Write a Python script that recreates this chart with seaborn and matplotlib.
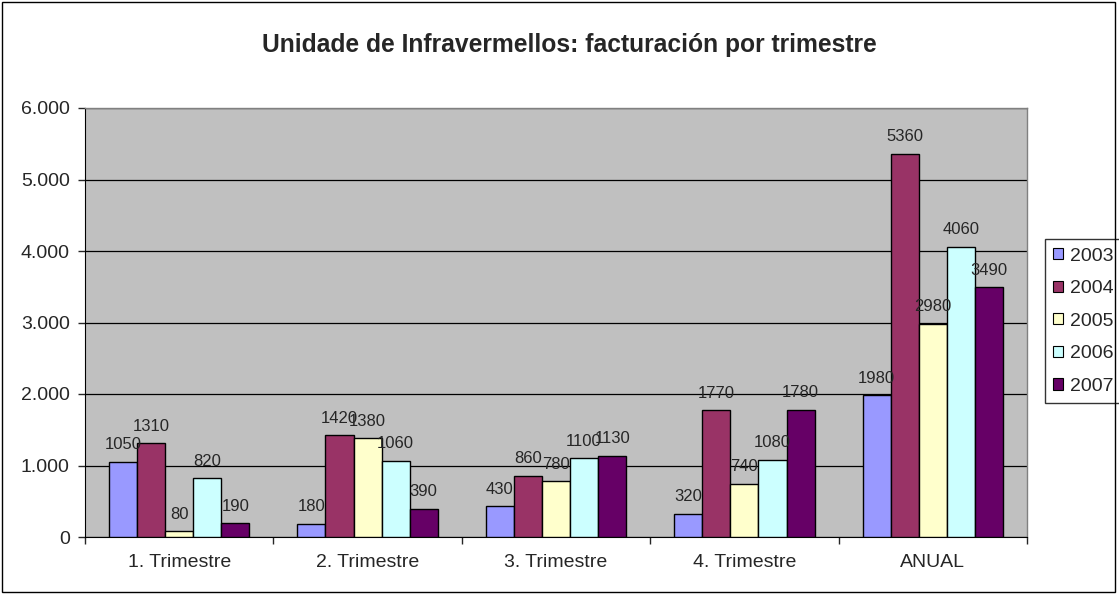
import pandas as pd
import matplotlib.pyplot as plt
import seaborn as sns
from matplotlib.patches import Rectangle

# Data
categories = ["1. Trimestre", "2. Trimestre", "3. Trimestre", "4. Trimestre", "ANUAL"]
years = ["2003", "2004", "2005", "2006", "2007"]
v2003 = [1050, 180, 430, 320, 1980]
v2004 = [1310, 1420, 860, 1770, 5360]
v2005 = [80, 1380, 780, 740, 2980]
v2006 = [820, 1060, 1100, 1080, 4060]
v2007 = [190, 390, 1130, 1780, 3490]
colors = ["#9999FF", "#993366", "#FFFFCC", "#CCFFFF", "#660066"]
yticks = [0, 1000, 2000, 3000, 4000, 5000, 6000]
ytick_labels = ["0", "1.000", "2.000", "3.000", "4.000", "5.000", "6.000"]

rows = []
for yr, vals in zip(years, [v2003, v2004, v2005, v2006, v2007]):
    for c, v in zip(categories, vals):
        rows.append({"trimestre": c, "ano": yr, "valor": v})
df = pd.DataFrame(rows)

sns.set_style("white")
plt.rcParams['font.family'] = ['Liberation Sans', 'DejaVu Sans']

fig = plt.figure(figsize=(11.19, 5.96), dpi=100)
ax = fig.add_axes([85 / 1119, 1 - 537 / 596, 942 / 1119, 429 / 596])

sns.barplot(data=df, x="trimestre", y="valor", hue="ano", order=categories,
            hue_order=years, palette=colors, edgecolor="black", linewidth=1.0,
            width=0.745, saturation=1, ax=ax, legend=True, zorder=3)

ax.set_facecolor("#C0C0C0")
ax.set_ylim(0, 6000)
ax.set_xlim(-0.5, 4.5)
ax.set_yticks(yticks)
ax.set_yticklabels(ytick_labels, fontsize=14)
ax.set_xticks(range(len(categories)))
ax.set_xticklabels(categories, fontsize=14)
ax.tick_params(axis="x", length=0, pad=12)
ax.tick_params(axis="y", length=5, width=1, direction="out", left=True, pad=6)
# category boundary ticks
ax.set_xticks([i - 0.5 for i in range(len(categories) + 1)], minor=True)
ax.tick_params(axis="x", which="minor", length=5, width=1, direction="out", bottom=True)
ax.grid(axis="y", color="black", linewidth=0.9, zorder=1)
ax.set_axisbelow(True)
ax.set_xlabel("")
ax.set_ylabel("")
for side in ["top", "right"]:
    ax.spines[side].set_color("#808080")
    ax.spines[side].set_linewidth(1)
ax.spines["left"].set_color("black")
ax.spines["bottom"].set_color("black")

for cont in ax.containers:
    ax.bar_label(cont, padding=7, fontsize=12)

ax.set_title("Unidade de Infravermellos: facturación por trimestre",
             fontsize=17.7, fontweight="bold", pad=40, x=0.514)

leg = ax.legend(loc="center left", bbox_to_anchor=(1.019, 0.503), frameon=True,
                fancybox=False, edgecolor="black", fontsize=14,
                handlelength=0.52, handleheight=0.52, handletextpad=0.36,
                labelspacing=0.8, borderpad=0.42, borderaxespad=0)
leg.get_frame().set_linewidth(1)
for h in leg.legend_handles:
    h.set_edgecolor("black")
    h.set_linewidth(0.8)

fig.patches.append(Rectangle((0.002, 0.006), 0.994, 0.99, transform=fig.transFigure,
                             fill=False, edgecolor="black", linewidth=1))

fig.savefig("out.png", dpi=100, facecolor="white")
